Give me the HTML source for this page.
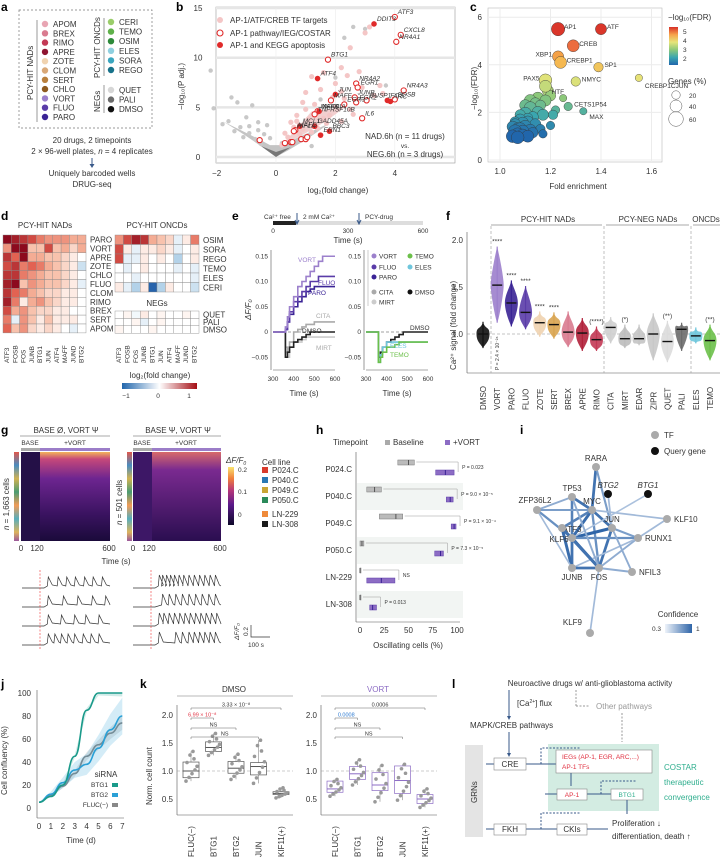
<!DOCTYPE html>
<html><head><meta charset="utf-8">
<style>
html,body{margin:0;padding:0;background:#fff;}
svg{display:block;font-family:"Liberation Sans",sans-serif;}
.t{font-size:8px;fill:#333;}
.s{font-size:6.5px;fill:#333;}
.L{font-size:12px;font-weight:bold;fill:#000;}
</style></head>
<body>
<svg id="fig" width="720" height="857" viewBox="0 0 720 857" xmlns="http://www.w3.org/2000/svg">
<defs>
<linearGradient id="fdrGrad" x1="0" y1="1" x2="0" y2="0">
<stop offset="0" stop-color="#2166ac"/><stop offset="0.2" stop-color="#3aa6b0"/><stop offset="0.4" stop-color="#8cc87a"/><stop offset="0.6" stop-color="#e6e57a"/><stop offset="0.8" stop-color="#f7a24a"/><stop offset="1" stop-color="#d73027"/></linearGradient>
<linearGradient id="divGrad" x1="0" x2="1"><stop offset="0" stop-color="#2166ac"/><stop offset="0.5" stop-color="#ffffff"/><stop offset="1" stop-color="#a50f15"/></linearGradient>
<linearGradient id="magGrad" x1="0" y1="1" x2="0" y2="0"><stop offset="0" stop-color="#0d0829"/><stop offset="0.35" stop-color="#5b1a8a"/><stop offset="0.6" stop-color="#b73779"/><stop offset="0.8" stop-color="#f07f3c"/><stop offset="1" stop-color="#fbe46f"/></linearGradient>
<linearGradient id="confGrad" x1="0" x2="1"><stop offset="0" stop-color="#eef3fa"/><stop offset="1" stop-color="#2f65a8"/></linearGradient>
<linearGradient id="hmTop" x1="0" y1="0" x2="0" y2="1"><stop offset="0" stop-color="#f3b35a"/><stop offset="0.08" stop-color="#c6487a"/><stop offset="0.3" stop-color="#6d2590"/><stop offset="0.7" stop-color="#3a1360"/><stop offset="1" stop-color="#1a0a3a"/></linearGradient>
<linearGradient id="hmTop2" x1="0" y1="0" x2="0" y2="1"><stop offset="0" stop-color="#d86a6a"/><stop offset="0.2" stop-color="#7a2a90"/><stop offset="1" stop-color="#2a0e50"/></linearGradient>
<linearGradient id="cbar" x1="0" y1="0" x2="0" y2="1"><stop offset="0" stop-color="#d93b2c"/><stop offset="0.15" stop-color="#2a78b4"/><stop offset="0.3" stop-color="#c9a535"/><stop offset="0.45" stop-color="#2b8a5a"/><stop offset="0.6" stop-color="#ef8a3a"/><stop offset="0.75" stop-color="#3a9fb0"/><stop offset="0.9" stop-color="#d6a640"/><stop offset="1" stop-color="#8a3a8a"/></linearGradient>
</defs>

<g>
<text class="L" x="1" y="11">a</text><text class="L" x="176" y="11">b</text><text class="L" x="470" y="11">c</text>
<text class="L" x="1" y="220">d</text><text class="L" x="232" y="220">e</text><text class="L" x="446" y="220">f</text>
<text class="L" x="1" y="434">g</text><text class="L" x="316" y="434">h</text><text class="L" x="520" y="434">i</text>
<text class="L" x="1" y="688">j</text><text class="L" x="140" y="688">k</text><text class="L" x="452" y="688">l</text>
</g>

<g id="pa">
<rect x="19" y="10" width="133" height="118" fill="none" stroke="#777" stroke-dasharray="2,2" stroke-width="0.7"/>
<text class="t" transform="translate(33,100) rotate(-90)">PCY-HIT NADs</text>
<line x1="37" y1="20" x2="37" y2="122" stroke="#555" stroke-width="0.6"/>
<text class="t" transform="translate(100,78) rotate(-90)">PCY-HIT ONCDs</text>
<line x1="104" y1="18" x2="104" y2="76" stroke="#555" stroke-width="0.6"/>
<text class="t" transform="translate(100,112) rotate(-90)">NEGs</text>
<line x1="104" y1="85" x2="104" y2="113" stroke="#555" stroke-width="0.6"/>
<text class="t" x="92" y="143" text-anchor="middle">20 drugs, 2 timepoints</text>
<text class="t" x="92" y="154" text-anchor="middle">2 × 96-well plates, <tspan font-style="italic">n</tspan> = 4 replicates</text>
<line x1="92" y1="158" x2="92" y2="166" stroke="#3a5a8a" stroke-width="1"/><path d="M89.5,164 L92,168 L94.5,164Z" fill="#3a5a8a"/>
<text class="t" x="92" y="176" text-anchor="middle">Uniquely barcoded wells</text>
<text class="t" x="92" y="187" text-anchor="middle">DRUG-seq</text>
</g>

<g id="pb">
<rect x="216" y="7" width="239" height="156" fill="#fff" stroke="#999" stroke-width="0.6"/>
</g>
<g id="pc"></g>
<g id="pd"></g>
<g id="pe"></g>
<g id="pf"></g>
<g id="pg">
<text class="t" x="66" y="433" text-anchor="middle">BASE Ø, VORT Ψ</text>
<line x1="20" y1="436" x2="110" y2="436" stroke="#555" stroke-width="0.6"/>
<text class="t" x="178" y="433" text-anchor="middle">BASE Ψ, VORT Ψ</text>
<line x1="133" y1="436" x2="221" y2="436" stroke="#555" stroke-width="0.6"/>
<text class="s" x="30" y="445" text-anchor="middle">BASE</text><text class="s" x="75" y="445" text-anchor="middle">+VORT</text>
<text class="s" x="142" y="445" text-anchor="middle">BASE</text><text class="s" x="186" y="445" text-anchor="middle">+VORT</text>
<rect x="21" y="448" width="19" height="3" fill="#aaa"/><rect x="40" y="448" width="70" height="3" fill="#9b7dc8"/>
<rect x="133" y="448" width="19" height="3" fill="#aaa"/><rect x="152" y="448" width="69" height="3" fill="#9b7dc8"/>
<rect x="14" y="452" width="5" height="89" fill="url(#cbar)" opacity="0.85"/>
<rect x="127" y="452" width="5" height="89" fill="url(#cbar)" opacity="0.85"/>
<rect x="21" y="452" width="19" height="89" fill="#241047"/>
<rect x="40" y="452" width="70" height="89" fill="url(#hmTop)"/>
<rect x="133" y="452" width="19" height="89" fill="#3d1766"/>
<rect x="152" y="452" width="69" height="89" fill="url(#hmTop2)"/>
<text class="t" transform="translate(9,530) rotate(-90)"><tspan font-style="italic">n</tspan> = 1,663 cells</text>
<text class="t" transform="translate(122,525) rotate(-90)"><tspan font-style="italic">n</tspan> = 501 cells</text>
<text class="t" x="21" y="551" text-anchor="middle">0</text><text class="t" x="37" y="551" text-anchor="middle">120</text><text class="t" x="109" y="551" text-anchor="middle">600</text>
<text class="t" x="133" y="551" text-anchor="middle">0</text><text class="t" x="149" y="551" text-anchor="middle">120</text><text class="t" x="220" y="551" text-anchor="middle">600</text>
<text class="t" x="116" y="564" text-anchor="middle">Time (s)</text>
<text class="t" x="226" y="463" font-style="italic">ΔF/F<tspan font-size="5" dy="2">0</tspan></text>
<rect x="228" y="467" width="6" height="58" fill="url(#magGrad)"/>
<text class="s" x="238" y="472">0.2</text><text class="s" x="238" y="494">0.1</text><text class="s" x="238" y="517">0</text>
<text class="t" x="262" y="465">Cell line</text>
</g>
<g id="ph"></g>
<g id="pi"></g>
<g id="pj"></g>
<g id="pk"></g>
<g id="pl">
<text class="t" x="590" y="686" text-anchor="middle">Neuroactive drugs w/ anti-glioblastoma activity</text>
<line x1="509" y1="690" x2="509" y2="718" stroke="#3a5a8a"/><path d="M507,716 L509,720 L511,716Z" fill="#3a5a8a"/>
<text class="t" x="517" y="706">[Ca<tspan font-size="5" dy="-3">2+</tspan><tspan dy="3">] flux</tspan></text>
<line x1="576" y1="690" x2="576" y2="706" stroke="#999" stroke-dasharray="2,1.5"/><line x1="576" y1="706" x2="590" y2="706" stroke="#999" stroke-dasharray="2,1.5"/>
<text class="t" x="596" y="709" style="fill:#999">Other pathways</text>
<text class="t" x="470" y="728">MAPK/CREB pathways</text>
<line x1="509" y1="732" x2="509" y2="755" stroke="#3a5a8a"/><path d="M507,753 L509,757 L511,753Z" fill="#3a5a8a"/>
<line x1="622" y1="713" x2="622" y2="742" stroke="#999" stroke-dasharray="2,1.5"/>
<rect x="465" y="745" width="18" height="92" fill="#e4e4e4"/>
<text class="t" transform="translate(477,803) rotate(-90)">GRNs</text>
<rect x="548" y="744" width="111" height="67" fill="#d3ece2"/>
<line x1="486" y1="764" x2="556" y2="764" stroke="#3a5a8a"/>
<rect x="494" y="758" width="32" height="12" fill="#fff" stroke="#888" stroke-width="0.6"/><text class="t" x="510" y="767" text-anchor="middle">CRE</text>
<rect x="556" y="750" width="96" height="23" fill="#fff" stroke="#888" stroke-width="0.6"/>
<text class="s" x="562" y="759" style="fill:#e03040">IEGs (AP-1, EGR, ARC,...)</text><text class="s" x="562" y="769" style="fill:#e03040">AP-1 TFs</text>
<text class="t" x="664" y="770" style="fill:#2fae8e">COSTAR</text><text class="t" x="664" y="785" style="fill:#2fae8e">therapeutic</text><text class="t" x="664" y="800" style="fill:#2fae8e">convergence</text>
<path d="M541,764 L541,748 L580,748" fill="none" stroke="#3a5a8a" stroke-dasharray="2,1.5"/>
<line x1="571" y1="773" x2="571" y2="786" stroke="#3a5a8a"/>
<line x1="545" y1="794" x2="611" y2="794" stroke="#3a5a8a"/>
<rect x="557" y="789" width="30" height="11" fill="#fff" stroke="#888" stroke-width="0.6"/><text class="s" x="572" y="797" text-anchor="middle" style="fill:#e03040">AP-1</text>
<rect x="611" y="789" width="32" height="11" fill="#fff" stroke="#888" stroke-width="0.6"/><text class="s" x="627" y="797" text-anchor="middle" style="fill:#2fae8e">BTG1</text>
<path d="M601,794 L601,781 L636,781" fill="none" stroke="#3a5a8a" stroke-dasharray="2,1.5"/>
<line x1="627" y1="800" x2="627" y2="814" stroke="#3a5a8a"/>
<line x1="486" y1="829" x2="557" y2="829" stroke="#3a5a8a"/>
<rect x="494" y="824" width="32" height="11" fill="#fff" stroke="#888" stroke-width="0.6"/><text class="t" x="510" y="832" text-anchor="middle">FKH</text>
<path d="M541,829 L541,813 L580,813" fill="none" stroke="#3a5a8a" stroke-dasharray="2,1.5"/>
<rect x="557" y="824" width="30" height="11" fill="#fff" stroke="#888" stroke-width="0.6"/><text class="t" x="572" y="832" text-anchor="middle">CKIs</text>
<line x1="587" y1="829" x2="608" y2="829" stroke="#3a5a8a"/>
<text class="t" x="612" y="826">Proliferation ↓</text><text class="t" x="612" y="839">differentiation, death ↑</text>
</g>
</svg>

<script>
const NS='http://www.w3.org/2000/svg';
function mk(parent,tag,attrs,txt){const e=document.createElementNS(NS,tag);for(const k in attrs)e.setAttribute(k,attrs[k]);if(txt!==undefined)e.textContent=txt;parent.appendChild(e);return e;}
const $=id=>document.getElementById(id);

const nadNames=['APOM','BREX','RIMO','APRE','ZOTE','CLOM','SERT','CHLO','VORT','FLUO','PARO'];
const nadColors=['#e8a5b3','#d97b8f','#c33a55','#8e1530','#f0d3b0','#d9a877','#b9803d','#8e5a1f','#9c80cc','#5a3ca8','#3a2395'];
const oncNames=['CERI','TEMO','OSIM','ELES','SORA','REGO'];
const oncColors=['#9acd6a','#5fb14a','#2d8a3a','#8fd0e0','#3aa6bf','#17728a'];
const negNames=['QUET','PALI','DMSO'];
const negColors=['#d6d6d6','#6b6b6b','#111111'];
(function(){const g=$('pa');
nadNames.forEach((n,i)=>{const y=24+i*9.3;const c=mk(g,'circle',{cx:45,cy:y,r:3.2,fill:nadColors[i]});

mk(g,'text',{class:'t',x:53,y:y+3},n);});
oncNames.forEach((n,i)=>{const y=22+i*9.6;mk(g,'circle',{cx:111,cy:y,r:3.2,fill:oncColors[i]});mk(g,'text',{class:'t',x:119,y:y+3},n);});
negNames.forEach((n,i)=>{const y=90+i*9.6;mk(g,'circle',{cx:111,cy:y,r:3.2,fill:negColors[i]});mk(g,'text',{class:'t',x:119,y:y+3},n);});
})();

const volLabels=['ATF3','DDIT3','CXCL8','NR4A1','BTG1','ATF4','NR4A2','EGR1','NR4A3','JUN','JUNB','DUSP1','FOS','FOSB','ARC','MAFF','EGR2','EGR3','MAFK','NFKBIA','IL6','TNFRSF10B','MCL1','GADD45A','BBC3','MAFG','HIF1A','ERN1','','','','','','',''];
const volFC=[4.0,3.3,4.2,4.05,1.75,1.4,2.7,2.75,4.3,2.0,2.65,3.05,3.75,4.0,3.85,1.85,2.7,2.3,1.4,1.45,2.9,1.3,0.8,1.3,1.8,0.65,0.6,1.5,-0.55,0.3,0.5,0.55,0.85,1.0,1.05];
const volP=[14.1,13.4,12.3,11.6,9.8,7.9,7.4,7.0,6.7,6.3,6.0,5.7,5.7,5.8,5.6,5.7,5.5,5.3,4.6,4.6,3.9,4.3,3.1,3.1,2.6,2.7,2.6,2.2,1.7,1.4,1.5,1.5,1.8,1.8,2.0];
const volType=['o','f','o','o','o','f','o','o','o','f','o','o','f','o','f','o','o','o','o','f','o','o','f','f','f','o','o','f','o','o','o','o','o','o','o'];
const pinkFC=[2.5,3.0,3.15,2.2,1.6,1.2,2.4,2.9,3.5,1.0,1.5,2.2,0.9,1.3,2.0,2.5,0.7,1.8,1.1,0.5,2.2,0.9,1.4,0.3,2.6,1.7,0.6,1.0,3.3,2.0,0.4,0.8,1.2,1.9,2.8,3.6,0.2,1.6,2.3,0.7];
const pinkP=[11,12.5,13.1,9,8.5,8.1,8.2,7.0,7.2,6.5,6.8,6.6,5.5,5.3,5.0,4.8,4.2,4.2,3.8,3.5,3.6,2.8,2.9,2.4,4.3,3.4,3.0,4.8,6.2,7.4,2.0,2.3,2.5,6.0,8.6,6.4,1.2,3.9,5.9,3.6];
const grayFC=[-2.2,-1.5,-1.3,-2.1,-0.8,-1.0,-0.6,-1.2,-0.3,3.7,2.3,2.6,3.0,-0.9,-0.4,-1.6,-0.2,1.5,2.0,-1.1,-0.5,-0.7,0.2,1.2,-1.4,-0.9,-0.6,-1.8];
const grayP=[8.7,6.0,5.5,4.9,5.2,4.0,3.5,3.0,3.2,7.2,12.0,13.1,12.9,2.4,2.3,3.6,1.9,5.8,8.0,2.0,1.3,1.8,1.4,1.1,2.6,3.1,2.7,3.3];
const volXTicks=[-2,0,2,4];const volYTicks=[0,5,10,15];
(function(){const g=$('pb');const xb=v=>276+v*29.7, yb=v=>157-v*9.93;
volYTicks.forEach(t=>{mk(g,'line',{x1:216,x2:455,y1:yb(t),y2:yb(t),stroke:'#e6e6e6','stroke-width':2.5});mk(g,'text',{class:'t',x:198,y:yb(t)+3,'text-anchor':'middle'},t);});
volXTicks.forEach(t=>{mk(g,'line',{x1:xb(t),x2:xb(t),y1:8,y2:163,stroke:'#ececec','stroke-width':0.6});mk(g,'text',{class:'t',x:xb(t),y:176,'text-anchor':'middle'},t===-2?'−2':t);});
mk(g,'path',{d:`M${xb(-1.8)},${yb(3.6)} Q${xb(-1)},${yb(2.2)} ${xb(0)},${yb(0)} Q${xb(0.9)},${yb(1.4)} ${xb(1.8)},${yb(3.4)} Q${xb(0.9)},${yb(2.2)} ${xb(0.2)},${yb(1.2)} L${xb(-0.2)},${yb(1.2)} Q${xb(-0.9)},${yb(2.3)} ${xb(-1.8)},${yb(3.6)} Z`,fill:'#c4c4c4'});
mk(g,'path',{d:`M${xb(-0.5)},${yb(1.1)} L${xb(0)},${yb(0)} L${xb(0.5)},${yb(1.0)} L${xb(0)},${yb(0.5)} Z`,fill:'#777'});
grayFC.forEach((v,i)=>{const c=mk(g,'circle',{cx:xb(v),cy:yb(grayP[i]),r:2.2,fill:'#c8c8c8'});});
mk(g,'path',{d:`M${xb(0.2)},${yb(1.2)} Q${xb(1.5)},${yb(3)} ${xb(2.3)},${yb(5)} L${xb(1.2)},${yb(4.6)} Z`,fill:'#f2cfcf'});
pinkFC.forEach((v,i)=>{const c=mk(g,'circle',{cx:xb(v),cy:yb(pinkP[i]),r:2.6,fill:'#f4c6c6'});});
volFC.forEach((v,i)=>{const f=volType[i]==='f';const c=mk(g,'circle',{cx:xb(v),cy:yb(volP[i]),r:f?2.8:2.6,fill:f?'#e02a2a':'#fff',stroke:'#e02a2a','stroke-width':f?0:1.1});

if(volLabels[i])mk(g,'text',{class:'s',x:xb(v)+3,y:yb(volP[i])-3,'font-style':'italic'},volLabels[i]);});
mk(g,'circle',{cx:220,cy:20,r:3,fill:'#f4c6c6'});mk(g,'text',{class:'t',x:230,y:23},'AP-1/ATF/CREB TF targets');
mk(g,'circle',{cx:220,cy:33,r:3,fill:'#fff',stroke:'#e02a2a','stroke-width':1.1});mk(g,'text',{class:'t',x:230,y:36},'AP-1 pathway/IEG/COSTAR');
mk(g,'circle',{cx:220,cy:45,r:3,fill:'#e02a2a'});mk(g,'text',{class:'t',x:230,y:48},'AP-1 and KEGG apoptosis');
mk(g,'text',{class:'t',x:405,y:139,'text-anchor':'middle'},'NAD.6h (n = 11 drugs)');
mk(g,'text',{class:'s',x:405,y:148,'text-anchor':'middle'},'vs.');
mk(g,'text',{class:'t',x:405,y:157,'text-anchor':'middle'},'NEG.6h (n = 3 drugs)');
mk(g,'text',{class:'t',x:338,y:193,'text-anchor':'middle'},'log₂(fold change)');
mk(g,'text',{class:'t',transform:'translate(184,110) rotate(-90)'},'−log₁₀(P adj.)');
})();

const termNames=['AP1','ATF','CREB','XBP1','CREBP1','SP1','NMYC','PAX5','HTF','CREBP1CJUN','CETS1P54','MAX'];
const termFE=[1.23,1.40,1.29,1.23,1.24,1.39,1.30,1.18,1.18,1.55,1.27,1.33];
const termFDR=[5.5,5.5,4.8,4.35,4.1,3.9,3.3,3.35,3.1,3.45,2.25,2.05];
const termGenes=[50,35,40,35,40,25,25,45,40,15,20,15];
const clFE=[1.05,1.06,1.07,1.08,1.06,1.09,1.10,1.12,1.08,1.11,1.13,1.15,1.10,1.14,1.16,1.12,1.18,1.07,1.09,1.11,1.13,1.17,1.20,1.15,1.19,1.06,1.08,1.10,1.12,1.14,1.16,1.21,1.22,1.17,1.09,1.11,1.05,1.07,1.25,1.2];
const clFDR=[1.0,1.2,1.1,1.3,1.5,1.05,1.4,1.25,1.7,1.6,1.8,2.0,1.95,1.5,2.3,2.2,2.5,1.35,1.2,1.0,1.15,1.9,2.7,2.6,2.9,1.6,1.9,2.3,2.5,2.4,1.3,1.9,2.1,1.1,1.55,1.75,1.4,0.95,2.6,1.45];
const clGenes=[45,50,40,45,35,40,45,40,35,40,35,40,45,35,30,40,35,30,45,40,30,35,30,40,35,30,30,35,40,30,25,25,20,20,40,30,35,45,15,20];
const cXTicks=[1.0,1.2,1.4,1.6];const cYTicks=[0,2,4,6];
function fdrColor(v){const st=[[1,[33,102,172]],[1.8,[58,166,176]],[2.6,[140,200,122]],[3.4,[230,229,122]],[4.2,[247,178,74]],[5,[232,85,58]],[5.6,[215,48,39]]];
if(v<=st[0][0])return 'rgb('+st[0][1]+')';for(let i=1;i<st.length;i++){if(v<=st[i][0]){const t=(v-st[i-1][0])/(st[i][0]-st[i-1][0]);const a=st[i-1][1],b=st[i][1];return `rgb(${a.map((x,j)=>Math.round(x+(b[j]-x)*t)).join(',')})`;}}return 'rgb(215,48,39)';}
(function(){const g=$('pc');const xc=v=>500+(v-1)*252.5, yc=v=>160-v*23.8;
mk(g,'rect',{x:488,y:8,width:174,height:154,fill:'#fff',stroke:'#bbb','stroke-width':0.6});
cYTicks.forEach(t=>{mk(g,'line',{x1:488,x2:662,y1:yc(t),y2:yc(t),stroke:'#ececec'});mk(g,'text',{class:'t',x:482,y:yc(t)+3,'text-anchor':'end'},t);});
cXTicks.forEach(t=>{mk(g,'line',{x1:xc(t),x2:xc(t),y1:8,y2:162,stroke:'#ececec'});mk(g,'text',{class:'t',x:xc(t),y:174,'text-anchor':'middle'},t.toFixed(1));});
const rs=v=>Math.sqrt(v)*0.95;
clFE.map((v,i)=>i).sort((a,b)=>clFDR[a]-clFDR[b]).reverse().forEach(i=>{const c=mk(g,'circle',{cx:xc(clFE[i]),cy:yc(clFDR[i]),r:rs(clGenes[i]),fill:fdrColor(clFDR[i]),stroke:'#333','stroke-width':0.4});});
termFE.forEach((v,i)=>{const c=mk(g,'circle',{cx:xc(v),cy:yc(termFDR[i]),r:rs(termGenes[i]),fill:fdrColor(termFDR[i]),stroke:'#333','stroke-width':0.4});

const left=(termNames[i]==='XBP1'||termNames[i]==='PAX5');
mk(g,'text',{class:'s',x:xc(v)+(left?-6:6),y:yc(termFDR[i])+(termNames[i]==='CREBP1CJUN'?10:termNames[i]==='MAX'?8:termNames[i]==='HTF'?8:0),'text-anchor':left?'end':'start'},termNames[i]);});
mk(g,'text',{class:'t',x:578,y:189,'text-anchor':'middle'},'Fold enrichment');
mk(g,'text',{class:'t',transform:'translate(477,110) rotate(-90)'},'−log₁₀(FDR)');
mk(g,'text',{class:'t',x:668,y:20},'−log₁₀(FDR)');
mk(g,'rect',{x:669,y:27,width:9,height:38,fill:'url(#fdrGrad)'});
[[5,32],[4,41],[3,50],[2,59]].forEach(a=>mk(g,'text',{class:'s',x:683,y:a[1]+2},a[0]));
mk(g,'text',{class:'t',x:668,y:84},'Genes (%)');
[[20,95],[40,106],[60,119]].forEach(a=>{mk(g,'circle',{cx:676,cy:a[1],r:rs(a[0]),fill:'none',stroke:'#555','stroke-width':0.5});mk(g,'text',{class:'s',x:689,y:a[1]+3},a[0]);});
})();

const geneCols=['ATF3','FOSB','FOS','JUNB','BTG1','JUN','ATF4','MAFF','JUND','BTG2'];
const nadRows=['PARO','VORT','APRE','ZOTE','CHLO','FLUO','CLOM','RIMO','BREX','SERT','APOM'];
const nadVals=[
[1.1,1.0,0.9,0.8,0.6,0.5,0.5,0.5,0.4,0.4],
[0.5,1.1,1.2,0.3,0.3,0.8,0.3,0.4,0.2,0.4],
[0.9,0.7,1.3,0.4,0.4,0.3,0.3,0.2,0.1,0.0],
[0.8,0.9,0.6,0.7,0.6,0.4,0.3,0.2,0.1,-0.2],
[0.9,0.9,0.6,0.5,0.4,0.3,0.3,0.2,0.1,0.0],
[1.0,1.1,0.3,0.5,0.4,0.3,0.3,0.2,0.1,-0.1],
[0.9,0.7,0.6,0.4,0.3,0.2,0.2,0.1,0.1,0.0],
[1.0,0.6,0.1,0.4,0.5,0.3,0.2,0.1,0.1,0.0],
[0.8,0.4,0.5,0.3,0.2,0.2,0.1,0.1,0.0,0.0],
[0.6,-0.1,0.5,0.3,0.1,0.3,0.1,0.1,0.1,0.0],
[0.7,0.3,0.5,0.2,0.1,0.2,0.1,0.0,-0.1,0.0]];
const oncRows=['OSIM','SORA','REGO','TEMO','ELES','CERI'];
const oncVals=[
[0.5,0.8,1.0,0.9,0.4,0.3,0.2,-0.1,0.1,0.6],
[0.8,0.1,-0.1,0.1,0.1,0.2,0.1,-0.1,0.0,0.1],
[0.8,-0.1,-0.1,0.1,0.0,0.1,0.0,-0.3,0.0,0.1],
[0.0,-0.1,0.0,0.1,0.0,0.0,0.0,-0.1,0.0,-0.1],
[0.0,0.0,-0.1,0.0,0.0,0.0,0.0,0.0,0.0,-0.1],
[0.1,-0.1,-0.3,0.1,-0.9,-0.3,0.1,0.0,0.0,-0.2]];
const negRows=['QUET','PALI','DMSO'];
const negVals=[[0.0,0.05,-0.05,0.1,0.0,0.05,0.0,0.0,0.05,0.0],[0.0,0.0,0.05,-0.1,0.0,0.05,0.0,0.0,0.0,0.0],[0.05,0.0,0.0,0.0,0.05,0.0,0.0,0.0,0.0,0.0]];
function divColor(v){v=Math.max(-1,Math.min(1.2,v));let t,stops;
if(v>=0){t=Math.min(1,v/1.1);stops=[[255,255,255],[246,180,155],[224,90,75],[140,10,30]];}
else{t=Math.min(1,-v/1.0);stops=[[255,255,255],[170,205,230],[80,145,200],[20,80,160]];}
const s=t*3,k=Math.min(2,Math.floor(s)),f=s-k,a=stops[k],b=stops[k+1];
return `rgb(${a.map((x,j)=>Math.round(x+(b[j]-x)*f)).join(',')})`;}
function heat(g,rows,vals,x0,y0,cw,ch,name){rows.forEach((r,i)=>{vals[i].forEach((v,j)=>{const c=mk(g,'rect',{x:x0+j*cw,y:y0+i*ch,width:cw,height:ch,fill:divColor(v),stroke:'#888','stroke-width':0.4});
});
mk(g,'text',{class:'t',x:x0+10*cw+4,y:y0+i*ch+ch/2+3},r);});}
(function(){const g=$('pd');
mk(g,'text',{class:'t',x:45,y:228,'text-anchor':'middle'},'PCY-HIT NADs');
mk(g,'text',{class:'t',x:157,y:228,'text-anchor':'middle'},'PCY-HIT ONCDs');
mk(g,'text',{class:'t',x:157,y:306,'text-anchor':'middle'},'NEGs');
heat(g,nadRows,nadVals,3,235,8.3,8.9,'nad-heatmap');
heat(g,oncRows,oncVals,115,235,8.4,9.5,'oncd-heatmap');
heat(g,negRows,negVals,115,311,8.4,7.4,'neg-heatmap');
geneCols.forEach((n,j)=>{mk(g,'text',{class:'s',transform:`translate(${3+j*8.3+6},${337+26}) rotate(-90)`},n);
mk(g,'text',{class:'s',transform:`translate(${115+j*8.4+6},${337+26}) rotate(-90)`},n);});
mk(g,'text',{class:'t',x:160,y:378,'text-anchor':'middle'},'log₂(fold change)');
mk(g,'rect',{x:122,y:383,width:75,height:6,fill:'url(#divGrad)'});
[['−1',126],['0',158],['1',189]].forEach(a=>mk(g,'text',{class:'s',x:a[1],y:398,'text-anchor':'middle'},a[0]));
})();

const eTime=[300,330,350,360,370,380,400,420,440,460,480,500,520,540,560,580,600];
const eVORT=[0,0,0,0.01,0.03,0.05,0.07,0.09,0.10,0.11,0.12,0.13,0.14,0.15,0.15,0.15,0.15];
const eFLUO=[0,0,0,0.005,0.02,0.04,0.06,0.07,0.08,0.09,0.10,0.10,0.11,0.11,0.11,0.11,0.11];
const ePARO=[0,0,0,0.005,0.02,0.035,0.05,0.06,0.07,0.08,0.085,0.09,0.09,0.09,0.09,0.09,0.09];
const eCITA=[0,0,0,-0.03,-0.04,-0.02,0,0.005,0.01,0.015,0.015,0.02,0.02,0.02,0.02,0.02,0.02];
const eMIRT=[0,0,0,-0.04,-0.05,-0.03,-0.02,-0.02,-0.015,-0.01,-0.01,-0.01,-0.01,-0.01,-0.01,-0.01,-0.01];
const eDMSO=[0,0,0,-0.05,-0.04,-0.03,-0.02,-0.015,-0.01,-0.005,0,0,0,0,0,0,0];
const eELES=[0,0,0,-0.06,-0.045,-0.03,-0.02,-0.02,-0.02,-0.02,-0.02,-0.02,-0.02,-0.02,-0.02,-0.02,-0.02];
const eTEMO=[0,0,0,-0.06,-0.05,-0.04,-0.03,-0.03,-0.025,-0.02,-0.02,-0.02,-0.02,-0.02,-0.02,-0.02,-0.02];
const eXTicks=[300,400,500,600];const eYTicks=[-0.05,0,0.05,0.10,0.15];
(function(){const g=$('pe');
mk(g,'rect',{x:273,y:221,width:150,height:4,fill:'#ddd'});mk(g,'rect',{x:273,y:221,width:23,height:4,fill:'#222'});
mk(g,'text',{class:'s',x:264,y:219},'Ca²⁺ free');mk(g,'text',{class:'s',x:303,y:219},'2 mM Ca²⁺');mk(g,'text',{class:'s',x:365,y:219},'PCY-drug');
mk(g,'path',{d:'M297,213 L297,223 M295,220 L297,224 L299,220 M359,213 L359,223 M357,220 L359,224 L361,220',stroke:'#3a5a8a',fill:'none'});
[['0',273],['300',348],['600',423]].forEach(a=>mk(g,'text',{class:'s',x:a[1],y:233,'text-anchor':'middle'},a[0]));
mk(g,'text',{class:'t',x:348,y:243,'text-anchor':'middle'},'Time (s)');
function plot(x0,series,cols,labels){const xs=v=>x0+(v-300)/300*62, ys=v=>332-v*505;
mk(g,'line',{x1:x0-2,x2:x0-2,y1:250,y2:370,stroke:'#555','stroke-width':0.6});
mk(g,'line',{x1:x0,x2:x0+62,y1:370,y2:370,stroke:'#555','stroke-width':0.6});
mk(g,'line',{x1:x0,x2:x0+62,y1:ys(0),y2:ys(0),stroke:'#444','stroke-dasharray':'3,2','stroke-width':0.6});
eYTicks.forEach(t=>mk(g,'text',{class:'s',x:x0-5,y:ys(t)+2,'text-anchor':'end'},t===0?'0':t.toFixed(2).replace('-','−')));
eXTicks.forEach(t=>mk(g,'text',{class:'s',x:xs(t),y:381,'text-anchor':'middle'},t));
series.forEach((s,k)=>{let d='';s.forEach((v,i)=>{const X=xs(eTime[i]),Y=ys(v);d+=(i?`H${X}V${Y}`:`M${X},${Y}`);});
const p=mk(g,'path',{d:d,fill:'none',stroke:cols[k],'stroke-width':1.6});});
mk(g,'text',{class:'t',x:x0+31,y:396,'text-anchor':'middle'},'Time (s)');}
plot(273,[eCITA,eMIRT,eDMSO,ePARO,eFLUO,eVORT],['#aaa','#ccc','#222','#3a2395','#5a3ca8','#9c80cc'],['cita','mirt','dmso','paro','fluo','vort']);
plot(366,[eDMSO,eELES,eTEMO],['#222','#6fc6dc','#6cc04a'],['dmso','eles','temo']);
mk(g,'text',{class:'s',x:298,y:262,style:'fill:#9c80cc'},'VORT');mk(g,'text',{class:'s',x:318,y:285,style:'fill:#5a3ca8'},'FLUO');mk(g,'text',{class:'s',x:308,y:295,style:'fill:#3a2395'},'PARO');
mk(g,'text',{class:'s',x:316,y:318,style:'fill:#aaa'},'CITA');mk(g,'text',{class:'s',x:302,y:333},'DMSO');mk(g,'text',{class:'s',x:316,y:350,style:'fill:#aaa'},'MIRT');
mk(g,'text',{class:'s',x:410,y:330},'DMSO');mk(g,'text',{class:'s',x:390,y:348,style:'fill:#6fc6dc'},'ELES');mk(g,'text',{class:'s',x:390,y:357,style:'fill:#6cc04a'},'TEMO');
mk(g,'text',{class:'t',transform:'translate(251,320) rotate(-90)','font-style':'italic'},'ΔF/F₀');
const leg=[['VORT','#9c80cc',374,256],['FLUO','#5a3ca8',374,267],['PARO','#3a2395',374,277],['CITA','#aaa',374,292],['MIRT','#ccc',374,302],['TEMO','#6cc04a',410,256],['ELES','#6fc6dc',410,267],['DMSO','#111',410,292]];
leg.forEach(a=>{mk(g,'circle',{cx:a[2],cy:a[3],r:2.5,fill:a[1]});mk(g,'text',{class:'s',x:a[2]+5,y:a[3]+2.5},a[0]);});
mk(g,'line',{x1:368,x2:368,y1:250,y2:306,stroke:'#999','stroke-width':0.5});
})();

const fDrugs=['DMSO','VORT','PARO','FLUO','ZOTE','SERT','BREX','APRE','RIMO','CITA','MIRT','EDAR','ZIPR','QUET','PALI','ELES','TEMO'];
const fMedian=[1.0,1.52,1.33,1.23,1.12,1.10,1.02,1.01,0.94,1.07,0.95,0.95,1.0,0.92,1.05,0.98,0.93];
const fMin=[0.85,1.12,1.08,1.05,0.97,0.95,0.86,0.82,0.82,0.90,0.85,0.88,0.72,0.70,0.82,0.90,0.72];
const fMax=[1.13,1.93,1.57,1.51,1.24,1.23,1.24,1.17,1.08,1.18,1.10,1.10,1.22,1.14,1.12,1.07,1.10];
const fColors=['#111','#9c80cc','#3a2395','#5a3ca8','#f0d3b0','#d9a450','#d97b8f','#b0203a','#c33a55','#cfcfcf','#bdbdbd','#c4c4c4','#c8c8c8','#dcdcdc','#6b6b6b','#6fc6dc','#6cc04a'];
const fStars=['','****','****','****','****','****','','','(****)','','(*)','','','(**)','','','(**)'];
const fYTicks=[1.0,1.5,2.0];
(function(){const g=$('pf');const yf=v=>334-(v-1)*94;const n=fDrugs.length;const xf=i=>483+i*(227/(n-1));
mk(g,'line',{x1:467,x2:467,y1:232,y2:373,stroke:'#555','stroke-width':0.6});mk(g,'line',{x1:467,x2:720,y1:373,y2:373,stroke:'#555','stroke-width':0.6});
fYTicks.forEach(t=>mk(g,'text',{class:'t',x:463,y:yf(t)+3,'text-anchor':'end'},t.toFixed(1)));
mk(g,'line',{x1:467,x2:720,y1:yf(1),y2:yf(1),stroke:'#888','stroke-dasharray':'3,2','stroke-width':0.6});
[491,604,691].forEach(x=>mk(g,'line',{x1:x,x2:x,y1:226,y2:373,stroke:'#999','stroke-dasharray':'3,2','stroke-width':0.6}));
mk(g,'text',{class:'t',x:548,y:222,'text-anchor':'middle'},'PCY-HIT NADs');mk(g,'line',{x1:491,x2:602,y1:225,y2:225,stroke:'#555','stroke-width':0.5});
mk(g,'text',{class:'t',x:648,y:222,'text-anchor':'middle'},'PCY-NEG NADs');mk(g,'line',{x1:606,x2:689,y1:225,y2:225,stroke:'#555','stroke-width':0.5});
mk(g,'text',{class:'t',x:706,y:222,'text-anchor':'middle'},'ONCDs');mk(g,'line',{x1:693,x2:720,y1:225,y2:225,stroke:'#555','stroke-width':0.5});
mk(g,'text',{class:'t',transform:'translate(456,370) rotate(-90)'},'Ca²⁺ signal (fold change)');
fDrugs.forEach((d,i)=>{const x=xf(i),m=yf(fMedian[i]),top=yf(fMax[i]),bot=yf(fMin[i]);
const w=6.5;const p=mk(g,'path',{d:`M${x},${top} C${x+2},${top+8} ${x+w},${m-8} ${x+w},${m} C${x+w},${m+8} ${x+2},${bot-4} ${x},${bot} C${x-2},${bot-4} ${x-w},${m+8} ${x-w},${m} C${x-w},${m-8} ${x-2},${top+8} ${x},${top}Z`,fill:fColors[i],opacity:0.9});

mk(g,'line',{x1:x,x2:x,y1:top,y2:bot,stroke:fColors[i],'stroke-width':1.2});
mk(g,'line',{x1:x-5,x2:x+5,y1:m,y2:m,stroke:'#111','stroke-width':1.4});
if(fStars[i])mk(g,'text',{class:'s',x:x,y:top-3,'text-anchor':'middle'},fStars[i]);
mk(g,'text',{class:'t',transform:`translate(${x+3},${410}) rotate(-90)`},d);});
mk(g,'text',{class:'s',transform:'translate(499,370) rotate(-90)',style:'font-size:5px'},'P = 2.4 × 10⁻²⁶');
})();

const cellLines=['P024.C','P040.C','P049.C','P050.C','LN-229','LN-308'];
const cellColors=['#d93b2c','#2a78b4','#c9a535','#2b8a5a','#ef8a3a','#1a1a1a'];
const spikesLeft=[[0.05,0.2,0.33,0.46,0.6,0.73,0.87],[0.05,0.28,0.5,0.72,0.92],[0.05,0.25,0.45,0.62,0.82],[0.05,0.15,0.25,0.35,0.45,0.58,0.7,0.82]];
const spikesRight=[[0.05,0.1,0.16,0.22,0.28,0.35,0.42,0.5,0.58,0.66,0.74,0.82,0.9],[0.1,0.2,0.3,0.4,0.5,0.6,0.7,0.8,0.9],[0.05,0.12,0.2,0.28,0.36,0.44,0.52,0.6,0.68,0.76,0.84,0.92],[0.05,0.3,0.4,0.5,0.58,0.66,0.74,0.82,0.9]];
(function(){const g=$('pg');
cellLines.forEach((c,i)=>{const y=472+i*10+(i>=4?4:0);mk(g,'rect',{x:262,y:y-5,width:6,height:6,fill:cellColors[i]});mk(g,'text',{class:'t',x:272,y:y+1},c);});
function trace(x0,w,y0,spikes,amp){let d=`M${x0},${y0} H${x0+w*0.25}`;const xb=x0+w*0.25,ww=w*0.75;
spikes.forEach(s=>{const sx=xb+s*ww;d+=` L${sx},${y0-2} L${sx+1},${y0-amp} L${sx+5},${y0-3}`;});d+=` L${x0+w},${y0-2}`;
const p=mk(g,'path',{d:d,fill:'none',stroke:'#333','stroke-width':0.7});}
for(let k=0;k<4;k++){trace(22,88,588+k*19,spikesLeft[k],11);trace(133,88,588+k*19,spikesRight[k],13);}
mk(g,'line',{x1:40,x2:40,y1:570,y2:650,stroke:'#e33','stroke-dasharray':'2,1.5','stroke-width':0.6});
mk(g,'line',{x1:151,x2:151,y1:570,y2:650,stroke:'#e33','stroke-dasharray':'2,1.5','stroke-width':0.6});
mk(g,'path',{d:'M251,625 V637 H270',fill:'none',stroke:'#333','stroke-width':0.7});
mk(g,'text',{class:'s',transform:'translate(239,640) rotate(-90)','font-style':'italic'},'ΔF/F₀');mk(g,'text',{class:'s',transform:'translate(248,636) rotate(-90)'},'0.2');
mk(g,'text',{class:'s',x:248,y:647},'100 s');
})();

const hLines=['P024.C','P040.C','P049.C','P050.C','LN-229','LN-308'];
const hBaseMed=[50,15,37,2,0,0];const hBaseQ1=[39,7,20,0,0,0];const hBaseQ3=[56,22,44,4,1,1];
const hVortMed=[88,93,97,83,22,13];const hVortQ1=[78,89,94,77,7,10];const hVortQ3=[97,96,99,86,36,17];
const hP=['P = 0.023','P = 9.0 × 10⁻⁵','P = 9.1 × 10⁻⁴','P = 7.3 × 10⁻⁵','NS','P = 0.013'];
const hXTicks=[0,25,50,75,100];
(function(){const g=$('ph');const xh=v=>360+v*0.97;const yh=i=>469+i*27;
mk(g,'text',{class:'t',x:333,y:445},'Timepoint');mk(g,'rect',{x:385,y:440,width:5,height:5,fill:'#aaa'});mk(g,'text',{class:'t',x:393,y:445},'Baseline');
mk(g,'rect',{x:445,y:440,width:5,height:5,fill:'#8c6cc4'});mk(g,'text',{class:'t',x:453,y:445},'+VORT');
[1,3,5].forEach(i=>mk(g,'rect',{x:357,y:yh(i)-13,width:106,height:27,fill:'#f2f5f3'}));
mk(g,'line',{x1:356,x2:356,y1:452,y2:622,stroke:'#555','stroke-width':0.6});mk(g,'line',{x1:356,x2:460,y1:622,y2:622,stroke:'#555','stroke-width':0.6});
hXTicks.forEach(t=>mk(g,'text',{class:'t',x:xh(t),y:633,'text-anchor':'middle'},t));
mk(g,'text',{class:'t',x:408,y:648,'text-anchor':'middle'},'Oscillating cells (%)');
hLines.forEach((n,i)=>{const y=yh(i);mk(g,'text',{class:'t',x:352,y:y+3,'text-anchor':'end'},n);
const b=mk(g,'rect',{x:xh(hBaseQ1[i]),y:y-9,width:Math.max(1,xh(hBaseQ3[i])-xh(hBaseQ1[i])),height:5,fill:'#bbb',stroke:'#777','stroke-width':0.5});
mk(g,'line',{x1:xh(hBaseMed[i]),x2:xh(hBaseMed[i]),y1:y-9,y2:y-4,stroke:'#555'});
const v=mk(g,'rect',{x:xh(hVortQ1[i]),y:y+1,width:xh(hVortQ3[i])-xh(hVortQ1[i]),height:5,fill:'#8c6cc4',stroke:'#5a3ca8','stroke-width':0.5});
mk(g,'line',{x1:xh(hVortMed[i]),x2:xh(hVortMed[i]),y1:y+1,y2:y+6,stroke:'#3a2395'});
const bx=Math.max(xh(hVortQ3[i]),xh(hBaseQ3[i]))+4;mk(g,'path',{d:`M${xh(hBaseQ3[i])+2},${y-7} H${bx} V${y+3}`,fill:'none',stroke:'#999','stroke-width':0.5});
mk(g,'text',{class:'s',x:bx+4,y:y,style:'font-size:5px'},hP[i]);});
})();

const nodes=['RARA','TP53','BTG2','BTG1','ZFP36L2','MYC','KLF10','JUN','ATF3','RUNX1','KLF6','JUNB','FOS','NFIL3','KLF9'];
const nodeX=[596,572,608,648,537,592,667,612,572,638,562,572,599,632,590];
const nodeY=[467,497,494,494,510,510,519,528,538,538,528,568,568,572,633];
const nodeQuery=[0,0,1,1,0,0,0,0,0,0,0,0,0,0,0];
const edgeA=[0,0,1,1,1,4,4,5,5,5,5,7,7,7,8,8,8,8,9,9,10,10,11,12,12,6,6,13,2,4,3,1];
const edgeB=[5,7,5,8,4,5,8,7,8,12,10,8,12,9,12,11,9,10,12,11,12,11,12,14,13,5,9,7,7,11,8,12];
const edgeConf=[0.9,0.6,0.9,0.8,0.5,0.6,0.7,0.9,0.95,0.7,0.8,1,0.9,0.6,1,0.9,0.7,0.8,0.5,0.4,0.9,0.95,0.9,0.4,0.5,0.4,0.4,0.5,0.4,0.4,0.35,0.5];
(function(){const g=$('pi');
edgeA.forEach((a,k)=>{const b=edgeB[k],c=edgeConf[k];const col=`rgb(${Math.round(238-(238-47)*c)},${Math.round(243-(243-101)*c)},${Math.round(250-(250-168)*c)})`;
const l=mk(g,'line',{x1:nodeX[a],y1:nodeY[a],x2:nodeX[b],y2:nodeY[b],stroke:col,'stroke-width':0.8+c*2.2});});
nodes.forEach((n,i)=>{const c=mk(g,'circle',{cx:nodeX[i],cy:nodeY[i],r:4,fill:nodeQuery[i]?'#111':'#aaa'});
let dx=0,dy=-6,an='middle';if(n==='KLF10'||n==='RUNX1'||n==='NFIL3'){dx=7;dy=3;an='start';}if(n==='KLF6'){dx=-3;dy=14;}if(n==='JUNB'||n==='FOS'){dy=12;}if(n==='KLF9'){dx=-8;dy=-8;an='end';}if(n==='ZFP36L2'){dy=-7;dx=-2;}
mk(g,'text',{class:'t',x:nodeX[i]+dx,y:nodeY[i]+dy,'text-anchor':an,'font-style':nodeQuery[i]?'italic':'normal'},n);});
mk(g,'circle',{cx:655,cy:435,r:4,fill:'#aaa'});mk(g,'text',{class:'t',x:664,y:438},'TF');
mk(g,'circle',{cx:655,cy:451,r:4,fill:'#111'});mk(g,'text',{class:'t',x:664,y:454},'Query gene');
mk(g,'text',{class:'t',x:678,y:617,'text-anchor':'middle'},'Confidence');
mk(g,'rect',{x:665,y:624,width:27,height:9,fill:'url(#confGrad)'});mk(g,'text',{class:'s',x:661,y:631,'text-anchor':'end'},'0.3');mk(g,'text',{class:'s',x:696,y:631},'1');
})();

const jDays=[0,1,2,3,4,5,6,7];
const jBTG1=[5,10,20,45,85,100,100,100];
const jBTG2=[5,12,22,33,38,52,68,80];
const jFLUC=[5,11,19,30,45,55,65,74];
const jYTicks=[0,20,40,60,80,100];
(function(){const g=$('pj');const xj=v=>39+v*11.9,yj=v=>808-v*1.15;
mk(g,'line',{x1:37,x2:37,y1:690,y2:818,stroke:'#555','stroke-width':0.6});mk(g,'line',{x1:37,x2:124,y1:818,y2:818,stroke:'#555','stroke-width':0.6});
jYTicks.forEach(t=>mk(g,'text',{class:'t',x:31,y:yj(t)+3,'text-anchor':'end'},t));
jDays.forEach(t=>mk(g,'text',{class:'t',x:xj(t),y:829,'text-anchor':'middle'},t));
mk(g,'text',{class:'t',x:81,y:843,'text-anchor':'middle'},'Time (d)');
mk(g,'text',{class:'t',transform:'translate(7,795) rotate(-90)'},'Cell confluency (%)');
function line(arr,col,band,nm){const pts=arr.map((v,i)=>[xj(jDays[i]),yj(v)]);
let d='M'+pts[0];for(let i=1;i<pts.length;i++){const p0=pts[i-1],p1=pts[i];const mx=(p0[0]+p1[0])/2;d+=` C${mx},${p0[1]} ${mx},${p1[1]} ${p1[0]},${p1[1]}`;}
if(band){let bd='M'+arr.map((v,i)=>[xj(jDays[i]),yj(Math.min(100,v+band*i/7))].join(',')).join(' L')+' L'+arr.slice().reverse().map((v,k)=>{const i=arr.length-1-k;return [xj(jDays[i]),yj(v-band*i/7)].join(',');}).join(' L')+'Z';mk(g,'path',{d:bd,fill:col,opacity:0.2});}
const p=mk(g,'path',{d:d,fill:'none',stroke:col,'stroke-width':1.6});}
line(jFLUC,'#888',6,'fluc');line(jBTG2,'#2aa0d6',16,'btg2');line(jBTG1,'#1a9a8a',3,'btg1');
mk(g,'text',{class:'t',x:106,y:777,'text-anchor':'middle'},'siRNA');
[['BTG1','#1a9a8a',787],['BTG2','#2aa0d6',797],['FLUC(−)','#888',807]].forEach(a=>{mk(g,'text',{class:'s',x:108,y:a[2],'text-anchor':'end'},a[0]);mk(g,'rect',{x:112,y:a[2]-4,width:6,height:4,fill:a[1]});});
})();

const kCats=['FLUC(−)','BTG1','BTG2','JUN','KIF11(+)'];
const kDmsoMed=[1.0,1.42,1.05,1.08,0.6];const kDmsoQ1=[0.88,1.35,0.96,0.93,0.58];const kDmsoQ3=[1.16,1.52,1.17,1.15,0.63];
const kDmsoMin=[0.82,1.28,0.85,0.78,0.52];const kDmsoMax=[1.35,1.67,1.3,1.55,0.7];
const kVortMed=[0.68,0.95,0.75,0.83,0.5];const kVortQ1=[0.62,0.85,0.65,0.6,0.42];const kVortQ3=[0.82,1.08,0.97,1.09,0.58];
const kVortMin=[0.55,0.75,0.45,0.48,0.35];const kVortMax=[0.85,1.2,1.1,1.12,0.68];
const kYTicks=[0.5,1.0,1.5,2.0];
(function(){const g=$('pk');const yk=v=>771-(v-1)*56;
function plot(x0,title,tc,med,q1,q3,mn,mx,col,brk){
mk(g,'text',{class:'t',x:x0+57,y:692,'text-anchor':'middle',style:'fill:'+tc},title);mk(g,'line',{x1:x0,x2:x0+116,y1:696,y2:696,stroke:'#777','stroke-width':0.6});
mk(g,'line',{x1:x0,x2:x0,y1:705,y2:815,stroke:'#555','stroke-width':0.6});mk(g,'line',{x1:x0,x2:x0+116,y1:815,y2:815,stroke:'#555','stroke-width':0.6});
kYTicks.forEach(t=>mk(g,'text',{class:'t',x:x0-4,y:yk(t)+3,'text-anchor':'end'},t.toFixed(1)));
mk(g,'line',{x1:x0,x2:x0+116,y1:yk(1),y2:yk(1),stroke:'#999','stroke-dasharray':'3,2','stroke-width':0.6});
kCats.forEach((c,i)=>{const x=x0+14+i*22.5;mk(g,'line',{x1:x,x2:x,y1:yk(mn[i]),y2:yk(mx[i]),stroke:'#888','stroke-width':0.6});
const b=mk(g,'rect',{x:x-8,y:yk(q3[i]),width:16,height:yk(q1[i])-yk(q3[i]),fill:'#fff',stroke:col,'stroke-width':0.7});
mk(g,'line',{x1:x-8,x2:x+8,y1:yk(med[i]),y2:yk(med[i]),stroke:col,'stroke-width':1});
[-5,-2,1,4,6,-4,3,-1,2].forEach((o,k)=>{const v=mn[i]+(mx[i]-mn[i])*((k*37)%9)/8;mk(g,'circle',{cx:x+o,cy:yk(v),r:1.8,fill:'#999'});});
mk(g,'text',{class:'t',transform:`translate(${x+3},857) rotate(-90)`},c);});
brk.forEach(b=>{const xa=x0+14,xb=x0+14+b[0]*22.5,y=b[1];mk(g,'path',{d:`M${xa},${y+2} V${y} H${xb} V${y+2}`,fill:'none',stroke:'#666','stroke-width':0.5});
mk(g,'text',{class:'s',x:(xa+xb)/2,y:y-1.5,'text-anchor':'middle',style:'font-size:5.5px;fill:'+(b[3]||'#333')},b[2]);});}
plot(177,'DMSO','#333',kDmsoMed,kDmsoQ1,kDmsoQ3,kDmsoMin,kDmsoMax,'#555',[[4,708,'3.33 × 10⁻⁸'],[1,718,'6.99 × 10⁻⁸','#e03040'],[2,728,'NS'],[3,737,'NS']]);
plot(321,'VORT','#8c6cc4',kVortMed,kVortQ1,kVortQ3,kVortMin,kVortMax,'#8c6cc4',[[4,708,'0.0006'],[1,718,'0.0008','#2a78d0'],[2,728,'NS'],[3,737,'NS']]);
mk(g,'text',{class:'t',transform:'translate(152,805) rotate(-90)'},'Norm. cell count');
})();
</script>
</body></html>
